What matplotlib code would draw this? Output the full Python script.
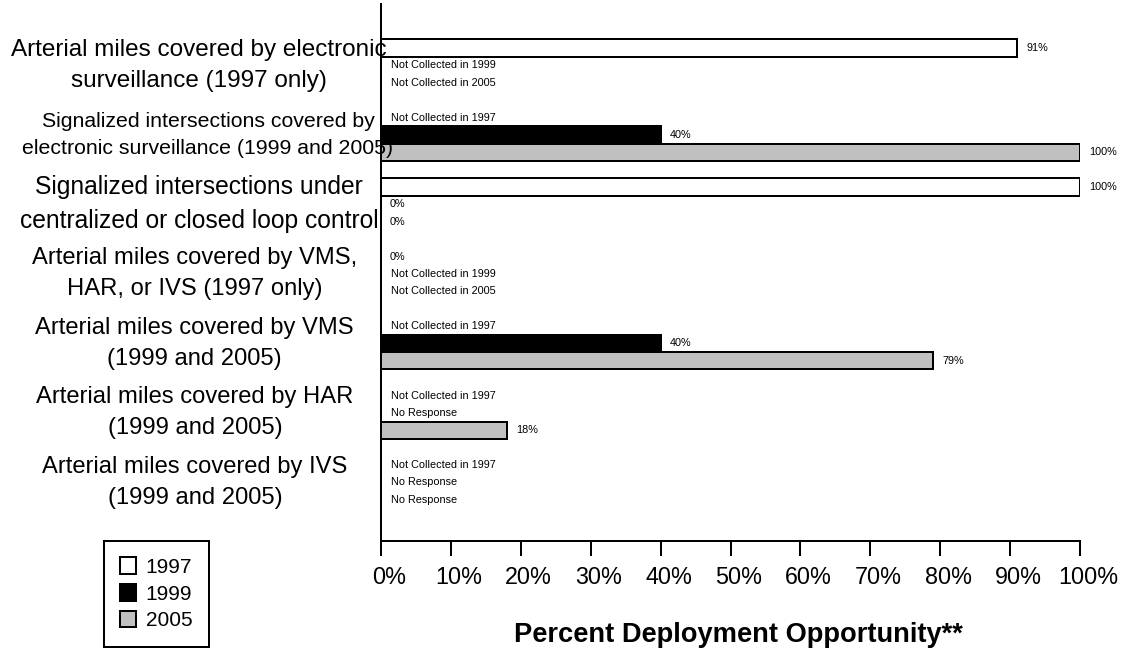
import numpy as np
import matplotlib
matplotlib.use("Agg")
import matplotlib.pyplot as plt
from matplotlib.transforms import ScaledTranslation, blended_transform_factory

plt.rcParams['font.family'] = ['Liberation Sans', 'DejaVu Sans']

# ---- data -------------------------------------------------------------
categories = [
    "Arterial miles covered by electronic\nsurveillance (1997 only)",
    "Signalized intersections covered by\nelectronic surveillance (1999 and 2005)",
    "Signalized intersections under\ncentralized or closed loop control",
    "Arterial miles covered by VMS,\nHAR, or IVS (1997 only)",
    "Arterial miles covered by VMS\n(1999 and 2005)",
    "Arterial miles covered by HAR\n(1999 and 2005)",
    "Arterial miles covered by IVS\n(1999 and 2005)",
]
years = ["1997", "1999", "2005"]

values_1997 = [91, np.nan, 100, 0, np.nan, np.nan, np.nan]
values_1999 = [np.nan, 40, 0, np.nan, 40, np.nan, np.nan]
values_2005 = [np.nan, 100, 0, np.nan, 79, 18, np.nan]

notes_1997 = [None, "Not Collected in 1997", None, None,
              "Not Collected in 1997", "Not Collected in 1997", "Not Collected in 1997"]
notes_1999 = ["Not Collected in 1999", None, None, "Not Collected in 1999",
              None, "No Response", "No Response"]
notes_2005 = ["Not Collected in 2005", None, None, "Not Collected in 2005",
              None, None, "No Response"]

x_ticks = [0, 10, 20, 30, 40, 50, 60, 70, 80, 90, 100]
x_tick_labels = [f"{t}%" for t in x_ticks]
x_title = "Percent Deployment Opportunity**"

# ---- styling ----------------------------------------------------------
W, H = 1121, 653
face_colors = ["white", "black", "#c0c0c0"]
label_sizes = [17.5, 15.3, 17.7, 17.1, 17.1, 17.1, 17.1]
label_centers_px = [199, 208, 199, 195, 194, 195, 195]
edge_lw = 1.44
slot = 0.25

fig = plt.figure(figsize=(W / 100, H / 100), dpi=100)
ax = fig.add_axes([381 / W, 1 - 541 / H, 699 / W, 537 / H])

centers = np.arange(len(categories))
series = [values_1997, values_1999, values_2005]
notes = [notes_1997, notes_1999, notes_2005]

handles = []
for k, (vals, year) in enumerate(zip(series, years)):
    v = np.array(vals, dtype=float)
    y = centers + (k - 1) * slot
    mask = ~np.isnan(v)
    bars = ax.barh(y[mask], v[mask], height=slot, color=face_colors[k],
                   edgecolor="black", linewidth=edge_lw, label=year, zorder=2)
    handles.append(bars)
    for i in range(len(categories)):
        if mask[i]:
            ax.annotate(f"{v[i]:g}%", xy=(v[i], y[i]), xytext=(6.5, 0),
                        textcoords="offset points", ha="left", va="center",
                        fontsize=7.8, annotation_clip=False)
        elif notes[k][i]:
            ax.annotate(notes[k][i], xy=(0, y[i]), xytext=(7.2, 0),
                        textcoords="offset points", ha="left", va="center",
                        fontsize=7.8, annotation_clip=False)

ax.set_xlim(0, 100)
ax.set_ylim(6.843, -0.883)

# category captions, centred in the left margin
trans = blended_transform_factory(fig.transFigure, ax.transData)
for i, (label, size, xc) in enumerate(zip(categories, label_sizes, label_centers_px)):
    ax.text(xc / W, i, label, transform=trans, ha="center", va="center",
            multialignment="center", fontsize=size, linespacing=1.52,
            clip_on=False, zorder=5)

for side in ["top", "right"]:
    ax.spines[side].set_visible(False)
for side in ["left", "bottom"]:
    ax.spines[side].set_linewidth(edge_lw)
    ax.spines[side].set_color("black")

ax.tick_params(axis="y", left=False, labelleft=False)
ax.set_xticks(x_ticks)
ax.set_xticklabels(x_tick_labels)
ax.tick_params(axis="x", direction="out", length=10.8, width=edge_lw,
               pad=7.2, labelsize=16.8, colors="black")
nudge = ScaledTranslation(8 / 100, 0, fig.dpi_scale_trans)
for lab in ax.get_xticklabels():
    lab.set_transform(lab.get_transform() + nudge)

ax.set_xlabel(x_title, fontsize=19.6, fontweight="bold", va="center")
ax.xaxis.set_label_coords((738 - 381) / 699, -(635 - 541) / 537)

leg = fig.legend(handles=handles, labels=years, loc="upper left",
                 bbox_to_anchor=(104 / W, 1 - 541 / H),
                 bbox_transform=fig.transFigure, borderaxespad=0,
                 frameon=True, fancybox=False, shadow=False, framealpha=1,
                 edgecolor="black", prop={"size": 15},
                 handlelength=0.77, handleheight=0.85, handletextpad=0.45,
                 labelspacing=0.35, borderpad=0.78)
leg.get_frame().set_linewidth(edge_lw)

fig.savefig("out.png", dpi=100, facecolor="white")
